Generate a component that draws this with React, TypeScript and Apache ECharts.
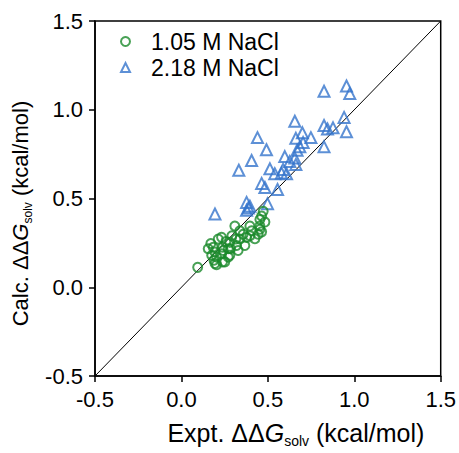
import React, { useEffect, useRef } from "react";
import * as echarts from "echarts";

const axisTicks = [-0.5, 0.0, 0.5, 1.0, 1.5];
const seriesNames = ["1.05 M NaCl", "2.18 M NaCl"];

// [expt, calc]
const green105: [number, number][] = [
  [0.094, 0.112], [0.155, 0.217], [0.175, 0.18], [0.184, 0.225], [0.194, 0.198],
  [0.188, 0.152], [0.194, 0.134], [0.203, 0.17], [0.213, 0.272], [0.232, 0.281],
  [0.238, 0.225], [0.232, 0.189], [0.238, 0.143], [0.251, 0.143], [0.271, 0.17],
  [0.284, 0.217], [0.28, 0.253], [0.319, 0.235], [0.328, 0.207], [0.315, 0.272],
  [0.309, 0.345], [0.338, 0.318], [0.338, 0.272], [0.357, 0.299], [0.377, 0.281],
  [0.396, 0.29], [0.396, 0.345], [0.406, 0.318], [0.444, 0.299], [0.454, 0.327],
  [0.464, 0.401], [0.473, 0.428], [0.454, 0.382], [0.454, 0.345], [0.464, 0.312],
  [0.242, 0.207], [0.271, 0.217], [0.28, 0.18], [0.203, 0.127], [0.17, 0.246],
  [0.367, 0.235], [0.292, 0.29], [0.257, 0.257], [0.425, 0.273], [0.483, 0.367],
];

const blue218: [number, number][] = [
  [0.825, 1.104], [0.955, 1.134], [0.974, 1.091], [0.656, 0.935], [0.941, 0.957],
  [0.825, 0.911], [0.845, 0.892], [0.877, 0.898], [0.955, 0.876], [0.44, 0.843],
  [0.7, 0.87], [0.662, 0.839], [0.749, 0.843], [0.704, 0.815], [0.825, 0.791],
  [0.492, 0.775], [0.685, 0.791], [0.669, 0.772], [0.406, 0.714], [0.598, 0.736],
  [0.656, 0.728], [0.627, 0.708], [0.662, 0.692], [0.332, 0.659], [0.512, 0.667],
  [0.588, 0.664], [0.54, 0.64], [0.579, 0.644], [0.608, 0.64], [0.464, 0.585],
  [0.483, 0.562], [0.556, 0.551], [0.377, 0.478], [0.396, 0.456], [0.377, 0.434],
  [0.498, 0.471], [0.194, 0.413], [0.387, 0.447],
];

const identityLine: [number, number][] = [[-0.5, -0.5], [1.5, 1.5]];

const GREEN = "#1a8a2a";
const BLUE = "#3474cc";
const FONT = "Liberation Sans, Arial, Helvetica, sans-serif";

function makeRich(size: number, sub: number) {
  return {
    a: { fontSize: size, fontFamily: FONT, color: "#000", lineHeight: size + 5, verticalAlign: "middle" },
    g: { fontSize: size, fontFamily: FONT, color: "#000", fontStyle: "italic", lineHeight: size + 5, verticalAlign: "middle" },
    s: { fontSize: sub, fontFamily: FONT, color: "#000", lineHeight: sub, verticalAlign: "bottom" },
  };
}

export default function App() {
  const ref = useRef<HTMLDivElement>(null);
  useEffect(() => {
    if (!ref.current) return;
    const chart = echarts.init(ref.current, undefined, { renderer: "svg" });
    const tickLabel = {
      fontSize: 22, fontFamily: FONT, color: "#000", margin: 12,
      formatter: (v: number) => (axisTicks.includes(v) ? v.toFixed(1) : ""),
    };
    chart.setOption({
      animation: false,
      backgroundColor: "#fff",
      grid: {
        left: 95, right: 18, top: 21, bottom: 70,
        show: true, borderColor: "#000", borderWidth: 1.5, backgroundColor: "transparent",
      },
      legend: {
        data: seriesNames.map((n, i) => ({
          name: n,
          icon: i === 0 ? "circle" : "triangle",
          itemStyle: {
            color: "rgba(0,0,0,0)",
            borderColor: i === 0 ? GREEN : BLUE,
            borderWidth: 2,
          },
        })),
        orient: "vertical",
        left: 115,
        top: 25,
        itemWidth: 9,
        itemHeight: 9,
        itemGap: 3,
        selectedMode: false,
        textStyle: { fontSize: 23, fontFamily: FONT, color: "#000", padding: [0, 0, 0, 16] },
      },
      xAxis: {
        type: "value",
        min: -0.5, max: 1.5, interval: 0.5,
        name: "{a|Expt. ΔΔ}{g|G}{s|solv}{a| (kcal/mol)}",
        nameLocation: "middle",
        nameGap: 42,
        nameTextStyle: { rich: makeRich(25, 14), padding: [0, 0, 0, 56] },
        axisLine: { show: true, onZero: false, lineStyle: { color: "#000", width: 1.5 } },
        axisTick: { show: true, inside: false, length: 6, lineStyle: { color: "#000", width: 1.5 } },
        axisLabel: tickLabel,
        splitLine: { show: false },
      },
      yAxis: {
        type: "value",
        min: -0.5, max: 1.5, interval: 0.5,
        name: "{a|Calc. ΔΔ}{g|G}{s|solv}{a| (kcal/mol)}",
        nameLocation: "middle",
        nameGap: 47,
        nameRotate: 90,
        nameTextStyle: { rich: makeRich(22, 12), padding: [0, 30, 0, 0] },
        axisLine: { show: true, onZero: false, lineStyle: { color: "#000", width: 1.5 } },
        axisTick: { show: true, inside: false, length: 6, lineStyle: { color: "#000", width: 1.5 } },
        axisLabel: tickLabel,
        splitLine: { show: false },
      },
      series: [
        {
          type: "line",
          name: "identity",
          data: identityLine,
          showSymbol: false,
          symbol: "none",
          lineStyle: { color: "#000", width: 1 },
          z: 1,
          silent: true,
        },
        {
          type: "scatter",
          name: seriesNames[0],
          data: green105,
          symbol: "circle",
          symbolSize: 9,
          itemStyle: { color: "rgba(0,0,0,0)", borderColor: GREEN, borderWidth: 2 },
          z: 3,
        },
        {
          type: "scatter",
          name: seriesNames[1],
          data: blue218,
          symbol: "triangle",
          symbolSize: 11,
          itemStyle: { color: "rgba(0,0,0,0)", borderColor: BLUE, borderWidth: 2 },
          z: 2,
        },
      ],
    });
    return () => chart.dispose();
  }, []);
  return <div ref={ref} style={{ width: 459, height: 453, position: "absolute", left: 0, top: 0 }} />;
}
